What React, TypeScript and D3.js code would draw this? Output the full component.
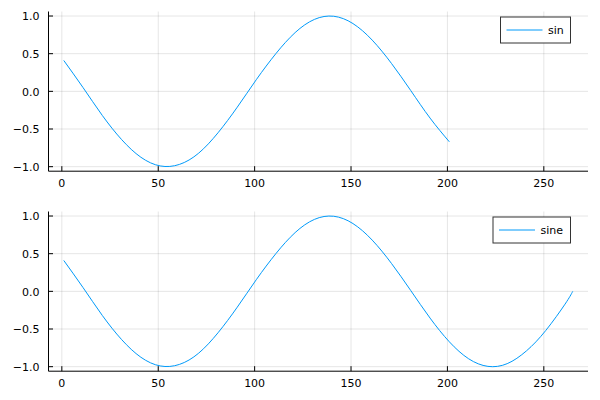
import React from 'react';
import * as d3 from 'd3';

const xSin = [1, 11, 21, 31, 41, 51, 61, 71, 81, 91, 101, 111, 121, 131, 141, 151, 161, 171, 181, 191, 201];
const sinValues = [0.41, 0.05, -0.32, -0.64, -0.875, -0.99, -0.97, -0.82, -0.55, -0.21, 0.16, 0.5, 0.78, 0.955, 0.997, 0.9, 0.68, 0.37, 0.01, -0.355, -0.67];

const xSine = [...xSin, 211, 221, 231, 241, 251, 261, 265];
const sineValues = [...sinValues, -0.895, -0.996, -0.96, -0.79, -0.52, -0.17, 0.0];

const xTicks = [0, 50, 100, 150, 200, 250];
const yTicks = [-1, -0.5, 0, 0.5, 1];

const W = 600;
const H = 400;
const FONT = 'DejaVu Sans, sans-serif';
const LINE = '#009AFA';

interface PanelProps {
  top: number;
  xs: number[];
  ys: number[];
  label: string;
  legendLeft: number;
}

const fmtY = (v: number) => (v < 0 ? '\u2212' + Math.abs(v).toFixed(1) : v.toFixed(1));

const Panel: React.FC<PanelProps> = ({ top, xs, ys, label, legendLeft }) => {
  const left = 48.5;
  const right = 588;
  const bottom = top + 159.7;

  const x = d3.scaleLinear().domain([-6.92, 272.92]).range([left, right]);
  const y = d3.scaleLinear().domain([-1.06, 1.06]).range([bottom, top]);

  const line = d3.line<number>()
    .x((_, i) => x(xs[i]))
    .y(d => y(d))
    .curve(d3.curveNatural);

  const legendRight = 570.5;
  const legendTop = top + 5.5;

  return (
    <g>
      {/* grid */}
      {xTicks.map(t => (
        <line key={'gx' + t} x1={x(t)} x2={x(t)} y1={top} y2={bottom} stroke="#000" strokeOpacity={0.1} strokeWidth={1} />
      ))}
      {yTicks.map(t => (
        <line key={'gy' + t} x1={left} x2={right} y1={y(t)} y2={y(t)} stroke="#000" strokeOpacity={0.1} strokeWidth={1} />
      ))}

      {/* axes */}
      <line x1={left} x2={right} y1={bottom} y2={bottom} stroke="#000" strokeWidth={1} />
      <line x1={left} x2={left} y1={top} y2={bottom} stroke="#000" strokeWidth={1} />

      {xTicks.map(t => (
        <g key={'tx' + t}>
          <line x1={x(t)} x2={x(t)} y1={bottom} y2={bottom - 5} stroke="#000" strokeWidth={1} />
          <text x={x(t)} y={bottom + 15.5} textAnchor="middle" fontFamily={FONT} fontSize={11} fill="#000">{t}</text>
        </g>
      ))}
      {yTicks.map(t => (
        <g key={'ty' + t}>
          <line x1={left} x2={left + 4.5} y1={y(t)} y2={y(t)} stroke="#000" strokeWidth={1} />
          <text x={39.5} y={y(t)} dy="0.38em" textAnchor="end" fontFamily={FONT} fontSize={11} fill="#000">{fmtY(t)}</text>
        </g>
      ))}

      <path d={line(ys) || ''} fill="none" stroke={LINE} strokeWidth={1} />

      {/* legend */}
      <rect x={legendLeft} y={legendTop} width={legendRight - legendLeft} height={26} fill="#fff" stroke="#333" strokeWidth={1} />
      <line x1={legendLeft + 6} x2={legendLeft + 42} y1={legendTop + 13} y2={legendTop + 13} stroke={LINE} strokeWidth={1} />
      <text x={legendLeft + 47.5} y={legendTop + 13} dy="0.36em" fontFamily={FONT} fontSize={11} fill="#000">{label}</text>
    </g>
  );
};

const App: React.FC = () => (
  <svg width={W} height={H} style={{ display: 'block', position: 'absolute', left: 0, top: 0, background: '#fff' }}>
    <rect width={W} height={H} fill="#fff" />
    <Panel top={11.5} xs={xSin} ys={sinValues} label="sin" legendLeft={500.5} />
    <Panel top={211.5} xs={xSine} ys={sineValues} label="sine" legendLeft={493} />
  </svg>
);

export default App;
